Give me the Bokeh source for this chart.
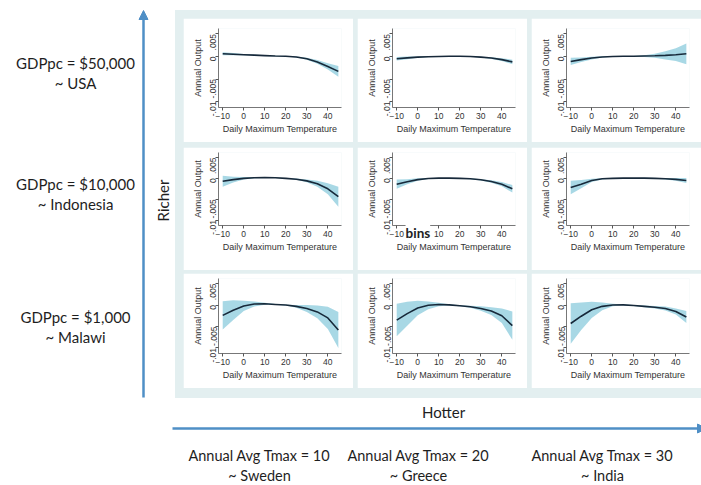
import math
from bokeh.plotting import figure
from bokeh.layouts import column, row
from bokeh.models import Range1d, FixedTicker, Spacer, Arrow, NormalHead, Label
from bokeh.core.properties import value
from bokeh.embed import file_html
from bokeh.resources import INLINE

# Daily maximum temperature grid (deg C)
temps = [-10, -5, 0, 5, 10, 15, 20, 25, 30, 35, 40, 45]

# Marginal effect on annual output (units of 1e-3) and half-width of the confidence band.
# Rows: income level (USA, Indonesia, Malawi); columns: climate (Sweden, Greece, India)
usa_sweden = [0.6, 0.5, 0.4, 0.3, 0.2, 0.1, 0.05, -0.1, -0.5, -1.2, -2.2, -3.3]
usa_sweden_ci = [0.35, 0.25, 0.15, 0.1, 0.08, 0.06, 0.05, 0.1, 0.2, 0.4, 0.7, 1.2]
usa_greece = [-0.5, -0.3, -0.15, -0.05, 0.0, 0.05, 0.05, 0.0, -0.15, -0.35, -0.7, -1.2]
usa_greece_ci = [0.4, 0.3, 0.15, 0.08, 0.05, 0.05, 0.05, 0.07, 0.1, 0.2, 0.3, 0.5]
usa_india = [-1.1, -0.7, -0.35, -0.1, 0.0, 0.05, 0.05, 0.1, 0.15, 0.25, 0.4, 0.6]
usa_india_ci = [0.8, 0.5, 0.3, 0.15, 0.05, 0.05, 0.05, 0.2, 0.45, 0.9, 1.4, 2.3]

idn_sweden = [-0.7, -0.3, 0.0, 0.15, 0.2, 0.15, 0.0, -0.2, -0.6, -1.3, -2.5, -4.4]
idn_sweden_ci = [1.3, 0.7, 0.3, 0.15, 0.1, 0.07, 0.05, 0.15, 0.35, 0.7, 1.3, 2.4]
idn_greece = [-1.4, -0.8, -0.3, -0.05, 0.05, 0.05, 0.0, -0.1, -0.35, -0.75, -1.4, -2.5]
idn_greece_ci = [1.1, 0.6, 0.3, 0.1, 0.05, 0.05, 0.05, 0.1, 0.15, 0.3, 0.5, 0.9]
idn_india = [-2.2, -1.4, -0.5, -0.1, 0.0, 0.05, 0.05, 0.05, 0.0, -0.1, -0.25, -0.5]
idn_india_ci = [1.6, 1.0, 0.4, 0.15, 0.05, 0.05, 0.05, 0.07, 0.1, 0.2, 0.35, 0.6]

mwi_sweden = [-2.4, -1.2, -0.2, 0.25, 0.3, 0.15, 0.0, -0.3, -0.8, -1.6, -3.0, -5.8]
mwi_sweden_ci = [3.3, 2.3, 1.2, 0.6, 0.25, 0.1, 0.1, 0.3, 0.8, 1.5, 2.6, 4.2]
mwi_greece = [-3.5, -2.0, -0.7, -0.05, 0.15, 0.05, -0.15, -0.4, -0.8, -1.4, -2.5, -4.8]
mwi_greece_ci = [3.8, 2.8, 1.7, 0.9, 0.4, 0.15, 0.1, 0.25, 0.5, 0.9, 1.7, 3.3]
mwi_india = [-4.3, -2.6, -1.1, -0.3, 0.0, 0.05, -0.1, -0.3, -0.5, -0.8, -1.5, -2.8]
mwi_india_ci = [4.7, 3.2, 1.9, 0.9, 0.3, 0.1, 0.1, 0.2, 0.3, 0.45, 0.7, 1.4]

income_labels = [("GDPpc = $50,000", "~ USA"),
                 ("GDPpc = $10,000", "~ Indonesia"),
                 ("GDPpc = $1,000", "~ Malawi")]
climate_labels = [("Annual Avg Tmax = 10", "~ Sweden"),
                  ("Annual Avg Tmax = 20", "~ Greece"),
                  ("Annual Avg Tmax = 30", "~ India")]

y_ticks = [-0.01, -0.005, 0, 0.005]
y_tick_text = ["-.01", "-.005", "0", ".005"]
x_ticks = [-10, 0, 10, 20, 30, 40]

BLUE = "#4f8fc6"
BAND = "#a3d6e4"
CURVE = "#17293a"
PANEL_BG = "#e3eff0"
LABEL_FONT = "Lato"
AXIS_FONT = "Liberation Sans"


def panel(est, ci, height, top, bottom):
    p = figure(width=170, height=height, x_range=Range1d(-12, 46.5),
               y_range=Range1d(-0.0113, 0.0062), output_backend="svg",
               toolbar_location=None, min_border_left=35, min_border_right=12,
               min_border_top=top, min_border_bottom=bottom,
               background_fill_color="white", border_fill_color="white",
               outline_line_color=None)
    p.grid.visible = False
    y = [v * 1e-3 for v in est]
    lo = [(v - w) * 1e-3 for v, w in zip(est, ci)]
    hi = [(v + w) * 1e-3 for v, w in zip(est, ci)]
    p.varea(x=temps, y1=lo, y2=hi, fill_color=BAND, fill_alpha=0.95)
    p.line(x=temps, y=y, line_color=CURVE, line_width=1.6)

    for ax in (p.xaxis[0], p.yaxis[0]):
        ax.axis_line_color = "#555555"
        ax.axis_line_width = 0.8
        ax.major_tick_line_color = "#555555"
        ax.major_tick_out = 3
        ax.major_tick_in = 0
        ax.minor_tick_line_color = None
        ax.major_label_text_font = AXIS_FONT
        ax.major_label_text_font_size = "8.5px"
        ax.major_label_text_color = "#333333"
        ax.axis_label_text_font = AXIS_FONT
        ax.axis_label_text_font_size = "9px"
        ax.axis_label_text_font_style = "normal"
        ax.axis_label_text_color = "#333333"
        ax.major_label_standoff = 2
        ax.axis_label_standoff = 2

    p.xaxis.ticker = FixedTicker(ticks=x_ticks)
    p.xaxis.axis_label = "Daily Maximum Temperature"
    p.yaxis.ticker = FixedTicker(ticks=y_ticks)
    p.yaxis.major_label_overrides = dict(zip(y_ticks, y_tick_text))
    p.yaxis.major_label_orientation = math.pi / 2
    p.yaxis.axis_label = "Annual Output"
    return p


grid_rows = [
    (124, 10, 35, [(usa_sweden, usa_sweden_ci), (usa_greece, usa_greece_ci), (usa_india, usa_india_ci)]),
    (123, 5, 40, [(idn_sweden, idn_sweden_ci), (idn_greece, idn_greece_ci), (idn_india, idn_india_ci)]),
    (115, 5, 35, [(mwi_sweden, mwi_sweden_ci), (mwi_greece, mwi_greece_ci), (mwi_india, mwi_india_ci)]),
]

panel_rows = []
for height, top, bottom, series in grid_rows:
    figs = [panel(e, c, height, top, bottom) for e, c in series]
    panel_rows.append(row(Spacer(width=8), figs[0], Spacer(width=4), figs[1],
                          Spacer(width=4), figs[2], spacing=0))

# stray "bins" note over the middle panel's tick labels; kept in the lower side
# panel so that it is not clipped to the plot frame
panel_rows[1].children[3].add_layout(Label(x=-5.8, y=-0.0130, text="bins",
                                          text_font=LABEL_FONT, text_font_size="13.5px",
                                          text_font_style="bold", text_color="#222222",
                                          text_baseline="middle",
                                          background_fill_color="white"), "below")

grid = column(Spacer(height=8), panel_rows[0], Spacer(height=5), panel_rows[1],
              Spacer(height=3), panel_rows[2], Spacer(height=10), spacing=0,
              styles={"background-color": PANEL_BG})

# left strip: income labels and the "Richer" arrow
left = figure(width=175, height=400, x_range=Range1d(0, 175), y_range=Range1d(400, 0),
              output_backend="svg", toolbar_location=None, x_axis_type=None,
              y_axis_type=None, min_border=0, outline_line_color=None)
left.grid.visible = False
inc_y = [62, 183, 316]
left.text(x=[75] * 3, y=inc_y, text=[a for a, b in income_labels],
          text_font=value(LABEL_FONT), text_font_size="15px", text_color="#1e1e1e",
          text_align="center", text_baseline="middle")
left.text(x=[75] * 3, y=[v + 20 for v in inc_y], text=[b for a, b in income_labels],
          text_font=value(LABEL_FONT), text_font_size="15px", text_color="#1e1e1e",
          text_align="center", text_baseline="middle")
left.text(x=[162], y=[200], text=["Richer"], angle=math.pi / 2,
          text_font=value(LABEL_FONT), text_font_size="15px", text_color="#1e1e1e",
          text_align="center", text_baseline="middle")
left.add_layout(Arrow(x_start=143, y_start=397, x_end=143, y_end=10,
                      line_color=BLUE, line_width=2.5,
                      end=NormalHead(size=9, fill_color=BLUE, line_color=BLUE)))

# bottom strip: climate labels and the "Hotter" arrow
bottom = figure(width=701, height=85, x_range=Range1d(0, 701), y_range=Range1d(485, 400),
                output_backend="svg", toolbar_location=None, x_axis_type=None,
                y_axis_type=None, min_border=0, outline_line_color=None)
bottom.grid.visible = False
bottom.text(x=[443], y=[411], text=["Hotter"], text_font=value(LABEL_FONT),
            text_font_size="15px", text_color="#1e1e1e", text_align="center",
            text_baseline="middle")
bottom.add_layout(Arrow(x_start=172, y_start=428, x_end=706, y_end=428,
                        line_color=BLUE, line_width=2.5,
                        end=NormalHead(size=9, fill_color=BLUE, line_color=BLUE)))
clim_x = [259, 418, 602]
bottom.text(x=clim_x, y=[455] * 3, text=[a for a, b in climate_labels],
            text_font=value(LABEL_FONT), text_font_size="14.5px", text_color="#1e1e1e",
            text_align="center", text_baseline="middle")
bottom.text(x=clim_x, y=[475] * 3, text=[b for a, b in climate_labels],
            text_font=value(LABEL_FONT), text_font_size="14.5px", text_color="#1e1e1e",
            text_align="center", text_baseline="middle")

page = column(row(left, column(Spacer(height=10), grid, spacing=0), spacing=0),
              bottom, spacing=0)

open("out.html", "w").write(file_html(page, INLINE))
